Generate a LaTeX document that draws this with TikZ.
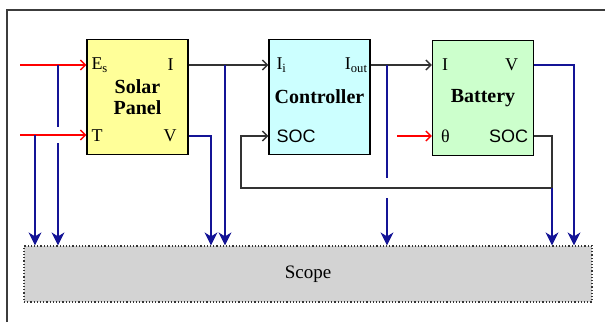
\documentclass[tikz,border=0pt]{standalone}
\usepackage{fontspec}
\setmainfont{Liberation Serif}
\newfontfamily\socfont{Liberation Sans}
\usetikzlibrary{arrows.meta,positioning}
\definecolor{panelyellow}{RGB}{255,255,153}
\definecolor{ctrlcyan}{RGB}{204,255,255}
\definecolor{battgreen}{RGB}{204,255,204}
\definecolor{scopegray}{RGB}{211,211,211}
\definecolor{probeblue}{RGB}{20,20,150}
\definecolor{framegray}{RGB}{60,60,60}
\tikzset{
  block box/.style={
    rectangle, draw=black, line width=1.4pt,
    minimum width=101pt, minimum height=115pt,
    inner sep=0pt, align=center,
    font=\fontsize{20}{21}\selectfont\bfseries
  },
  port label/.style={inner sep=0pt, font=\fontsize{18}{20}\selectfont},
  scope box/.style={
    rectangle, draw=black!80, dotted, line width=1.2pt, fill=scopegray,
    minimum width=568pt, minimum height=56pt, font=\fontsize{19}{21}\selectfont
  },
  signal arrow/.style={-{Straight Barb[length=5pt,width=10pt]}, line width=1.3pt, black!80},
  input arrow/.style={-{Straight Barb[length=5pt,width=10pt]}, line width=1.3pt, red},
  probe line/.style={line width=1.5pt, probeblue},
  probe arrow/.style={probe line, -{Stealth[length=13pt,width=13pt,inset=4pt]}}
}

\begin{document}
\begin{tikzpicture}[x=1pt,y=-1pt]
    \useasboundingbox (0,0) rectangle (605,322);
    % outer frame
    \draw[framegray, line width=1.5pt] (7,322) |- (605,10);
    % blocks
    \node[block box, fill=panelyellow] (solar) at (137.5,97) {Solar\\Panel};
    \node[block box, fill=ctrlcyan] (ctrl) at (319.5,97) {Controller};
    \node[block box, fill=battgreen] (batt) at (483,98) {Battery};
    \node[scope box] (scope) at (308,274) {Scope};
    \coordinate (row top) at (0,65);
    \coordinate (row low) at (0,136);
    \coordinate (fb row) at (0,188);
    % port labels
    \node[port label, anchor=west] at ([xshift=5pt]solar.west |- row top) {E\textsubscript{s}};
    \node[port label, anchor=west] at ([xshift=5pt]solar.west |- row low) {T};
    \node[port label, anchor=east] at ([xshift=-15pt]solar.east |- row top) {I};
    \node[port label, anchor=east] at ([xshift=-12pt]solar.east |- row low) {V};
    \node[port label, anchor=west] at ([xshift=8pt]ctrl.west |- row top) {I\textsubscript{i}};
    \node[port label, anchor=east] at ([xshift=-3pt]ctrl.east |- row top) {I\textsubscript{out}};
    \node[port label, anchor=west, font=\fontsize{18}{20}\selectfont\socfont] at ([xshift=8pt]ctrl.west |- row low) {SOC};
    \node[port label, anchor=west] at ([xshift=10pt]batt.west |- row top) {I};
    \node[port label, anchor=east] at ([xshift=-16pt]batt.east |- row top) {V};
    \node[port label, anchor=west] at ([xshift=9pt]batt.west |- row low) {θ};
    \node[port label, anchor=east, font=\fontsize{18}{20}\selectfont\socfont] at ([xshift=-6pt]batt.east |- row low) {SOC};
    % junction points
    \coordinate (es src) at (20,65);
    \coordinate (t src) at (20,135);
    \coordinate (es tap) at (58,65);
    \coordinate (es gap a) at (58,127);
    \coordinate (es gap b) at (58,143);
    \coordinate (t tap) at (35,135);
    \coordinate (i tap) at (225,65);
    \coordinate (v bend) at (211,135);
    \coordinate (out tap) at (387,65);
    \coordinate (out gap a) at (387,178);
    \coordinate (out gap b) at (387,198);
    \coordinate (theta src) at (397,136);
    \coordinate (soc bend) at (552,188);
    \coordinate (fb bend) at (241,188);
    \coordinate (bv bend) at (574,65);
    % inputs
    \draw[input arrow] (es src) -- (solar.west |- es src);
    \draw[input arrow] (t src) -- (solar.west |- t src);
    \draw[input arrow] (theta src) -- (batt.west |- theta src);
    % signals
    \draw[signal arrow] (solar.east |- row top) -- (ctrl.west |- row top);
    \draw[signal arrow] (ctrl.east |- row top) -- (batt.west |- row top);
    \draw[signal arrow] (batt.east |- row low) -| (soc bend) -- (fb bend) |- (ctrl.west |- row low);
    % probes to scope
    \draw[probe arrow] (t tap) -- (t tap |- scope.north);
    \draw[probe line] (es tap) -- (es gap a);
    \draw[probe arrow] (es gap b) -- (es gap b |- scope.north);
    \draw[probe arrow] (solar.east |- row low) -| (v bend |- scope.north);
    \draw[probe arrow] (i tap) -- (i tap |- scope.north);
    \draw[probe line] (out tap) -- (out gap a);
    \draw[probe arrow] (out gap b) -- (out gap b |- scope.north);
    \draw[probe arrow] (soc bend) -- (soc bend |- scope.north);
    \draw[probe arrow] (batt.east |- row top) -| (bv bend |- scope.north);
\end{tikzpicture}
\end{document}
